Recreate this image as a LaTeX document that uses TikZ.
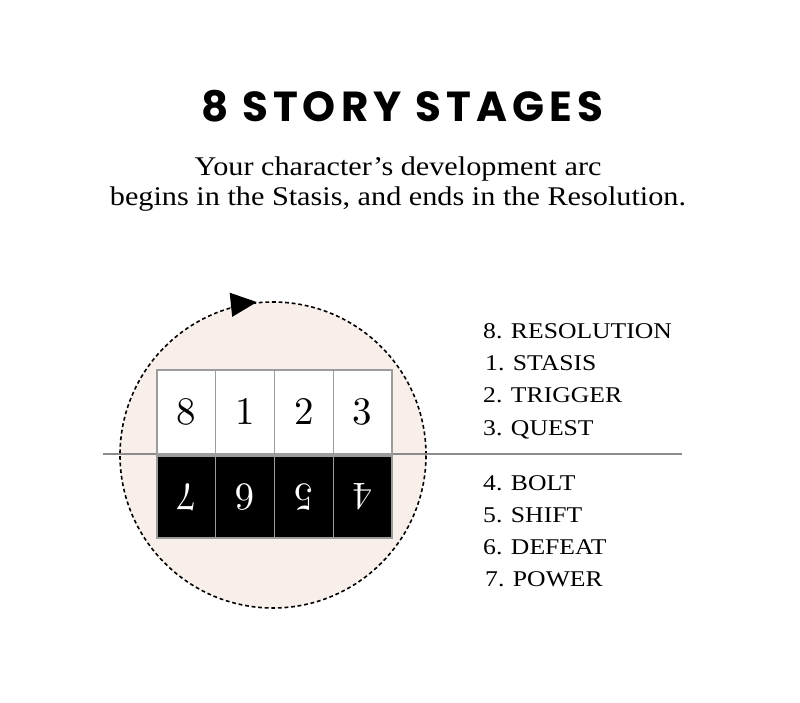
\documentclass[tikz,border=0pt]{standalone}
\usepackage{fontspec}
\setmainfont{Liberation Serif}
\newfontfamily\titlefont[LetterSpace=12]{Poppins}
\newfontfamily\widefont[FakeStretch=1.12]{Liberation Serif}
\newfontfamily\listfont[FakeStretch=1.14]{Liberation Serif}
\newfontfamily\digitfont{lmroman10-regular.otf}
\usetikzlibrary{arrows.meta}
\definecolor{pinkbg}{HTML}{F8EEEA}
\definecolor{boxgray}{HTML}{9C9C9C}
\definecolor{rulegray}{HTML}{8C8C8C}
\begin{document}
\begin{tikzpicture}[x=1pt,y=-1pt,
  cell/.style={draw=boxgray, line width=1.2pt, minimum width=58.75pt, inner sep=0pt, outer sep=0pt,
    font=\digitfont\fontsize{39}{39}\selectfont},
  upcell/.style={cell, fill=white, minimum height=84pt, text=black},
  downcell/.style={cell, fill=black, minimum height=82pt, text=white, rotate=180},
  item/.style={anchor=base west, inner sep=0pt, font=\listfont\fontsize{22.5}{22.5}\selectfont},
  subt/.style={anchor=base, inner sep=0pt, font=\widefont\fontsize{27}{27}\selectfont}]
\useasboundingbox (0,0) rectangle (800,703);
\fill[white] (0,0) rectangle (800,703);
% title
\node[anchor=base, inner sep=0pt, font=\titlefont\bfseries\fontsize{42}{42}\selectfont] (title) at (402,122) {8 STORY STAGES};
\node[subt] (sub1) at (398,176) {Your character’s development arc};
\node[subt] (sub2) at (398,206) {begins in the Stasis, and ends in the Resolution.};
% cycle
\node[circle, minimum size=306pt, inner sep=0pt, fill=pinkbg, draw=black, line width=1.6pt,
  dash pattern=on 3.8pt off 2.8pt] (cyc) at (273,455) {};
\draw[line width=1.2pt, -{Triangle[length=26pt,width=24pt]}] (cyc.106) arc[start angle=106, end angle=96, radius=153pt];
% horizontal rule
\coordinate (hl) at (103,454);
\coordinate (hr) at (682,454);
\draw[rulegray, line width=1.3pt] (hl) -- (hr);
% boxes
\node[upcell] (u8) at (186.4,412) {8};
\node[upcell] (u1) at (245.1,412) {1};
\node[upcell] (u2) at (303.9,412) {2};
\node[upcell] (u3) at (362.6,412) {3};
\node[downcell] (d7) at (186.4,497) {7};
\node[downcell] (d6) at (245.1,497) {6};
\node[downcell] (d5) at (303.9,497) {5};
\node[downcell] (d4) at (362.6,497) {4};
% list
\node[item] (i8) at (483,338) {8. RESOLUTION};
\node[item] (i1) at (485,370) {1. STASIS};
\node[item] (i2) at (483,402) {2. TRIGGER};
\node[item] (i3) at (483,435) {3. QUEST};
\node[item] (i4) at (483,490) {4. BOLT};
\node[item] (i5) at (483,522) {5. SHIFT};
\node[item] (i6) at (483,554) {6. DEFEAT};
\node[item] (i7) at (485,586) {7. POWER};
\end{tikzpicture}
\end{document}
